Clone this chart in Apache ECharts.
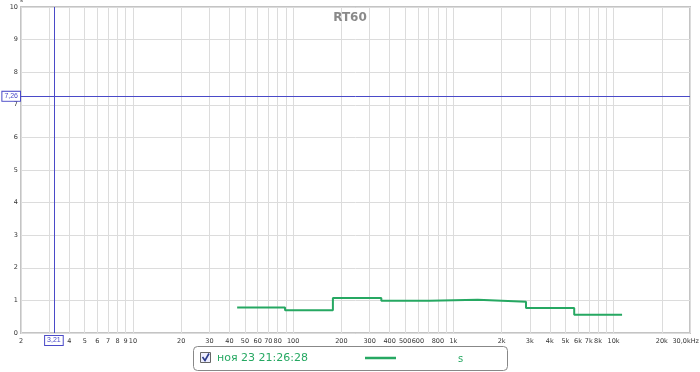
<!DOCTYPE html>
<html><head><meta charset="utf-8">
<script src="https://cdn.jsdelivr.net/npm/echarts@6/dist/echarts.min.js"></script>
<style>html,body{margin:0;padding:0;background:#fff}#c{width:700px;height:372px}</style>
</head><body><div id="c"></div>
<script>
// octave band edges (Hz) and RT60 values (s), drawn as a step line
const bandEdges = [44.7, 89, 177, 355, 710, 1420, 2840, 5680, 11300];
const rt60 = [0.78, 0.70, 1.07, 0.99, 1.02, 0.96, 0.77, 0.56];
const gridFreqs = [2,3,4,5,6,7,8,9,10,20,30,40,50,60,70,80,90,100,200,300,400,500,600,700,800,900,1000,2000,3000,4000,5000,6000,7000,8000,9000,10000,20000,30000];
const labelFreqs = [2,4,5,6,7,8,9,10,20,30,40,50,60,70,80,100,200,300,400,500,600,800,1000,2000,3000,4000,5000,6000,7000,8000,10000,20000,30000];
const cursorX = 3.21, cursorY = 7.26;
const seriesName = 'ноя 23 21:26:28';

// build explicit step vertices from the band edges/values
const stepData = [];
rt60.forEach((v, i) => { stepData.push([bandEdges[i], v]); stepData.push([bandEdges[i + 1], v]); });

const chart = echarts.init(document.getElementById('c'));
const fmt = v => {
  if (v >= 30000) return '{m|30,0kHz}';
  if (v >= 1000) return (v/1000) + 'k';
  return String(v);
};
const cursorColor = '#4a4ac8';
chart.setOption({
  animation: false,
  title: { text: 'RT60', left: 'center', top: 7, textStyle: { fontSize: 12, fontWeight: 'bold', color: '#8a8a8a', fontFamily: 'DejaVu Sans' } },
  grid: { left: 21, right: 10, top: 7, bottom: 39, show: true, borderColor: '#c4c4c4', borderWidth: 2, outerBoundsMode: 'none', containLabel: false },
  xAxis: {
    type: 'log', logBase: 10, min: 2, max: 30000,
    axisLine: { show: false },
    axisTick: { show: false, customValues: gridFreqs },
    splitLine: { show: true, lineStyle: { color: '#dcdcdc', width: 1 } },
    axisLabel: { customValues: labelFreqs, formatter: fmt, fontSize: 6.5, color: '#333', margin: 5, fontFamily: 'DejaVu Sans', hideOverlap: false,
      alignMaxLabel: 'right', rich: { m: { fontSize: 6.5, color: '#333', fontFamily: 'DejaVu Sans', padding: [0, -9, 0, 0] } } }
  },
  yAxis: {
    type: 'value', min: 0, max: 10, interval: 1,
    name: 's', nameLocation: 'end', nameGap: 1, nameTextStyle: { fontSize: 6, color: '#333', align: 'right', padding: [0, -2, 0, 0] },
    axisLine: { show: false }, axisTick: { show: false },
    splitLine: { show: true, lineStyle: { color: '#dcdcdc', width: 1 } },
    axisLabel: { fontSize: 6.5, color: '#333', margin: 3, fontFamily: 'DejaVu Sans' }
  },
  series: [{
    name: seriesName, type: 'line', showSymbol: false,
    data: stepData,
    lineStyle: { color: '#26a862', width: 2 },
    markLine: {
      silent: true, symbol: 'none', animation: false,
      lineStyle: { color: cursorColor, width: 1, type: 'solid' },
      data: [
        { xAxis: cursorX, label: { show: true, position: 'start', formatter: '3,21', fontSize: 7, color: cursorColor, backgroundColor: '#fff', borderColor: cursorColor, borderWidth: 1, padding: [1, 2], distance: 3 } },
        { yAxis: cursorY, label: { show: true, position: 'start', formatter: '7,26', fontSize: 7, color: cursorColor, backgroundColor: '#fff', borderColor: cursorColor, borderWidth: 1, padding: [1, 2], distance: 1 } }
      ]
    }
  }],
  graphic: [
    { type: 'rect', shape: { x: 193.5, y: 346.5, width: 314, height: 24, r: 4 }, style: { fill: '#fff', stroke: '#888', lineWidth: 1 } },
    { type: 'rect', shape: { x: 200.5, y: 352.5, width: 10, height: 10 }, style: { fill: '#eef', stroke: '#666', lineWidth: 1 } },
    { type: 'polyline', shape: { points: [[202.5, 357], [205, 360.5], [209, 353.5]] }, style: { stroke: '#2a3a8a', lineWidth: 1.6, fill: null } },
    { type: 'text', x: 217, y: 358.5, style: { text: seriesName, fontSize: 11, fill: '#26a862', fontFamily: 'DejaVu Sans', verticalAlign: 'middle' } },
    { type: 'line', shape: { x1: 365, y1: 358, x2: 396, y2: 358 }, style: { stroke: '#26a862', lineWidth: 2.5 } },
    { type: 'text', x: 458, y: 359, style: { text: 's', fontSize: 10, fill: '#26a862', fontFamily: 'DejaVu Sans', verticalAlign: 'middle' } }
  ]
});
</script></body></html>
